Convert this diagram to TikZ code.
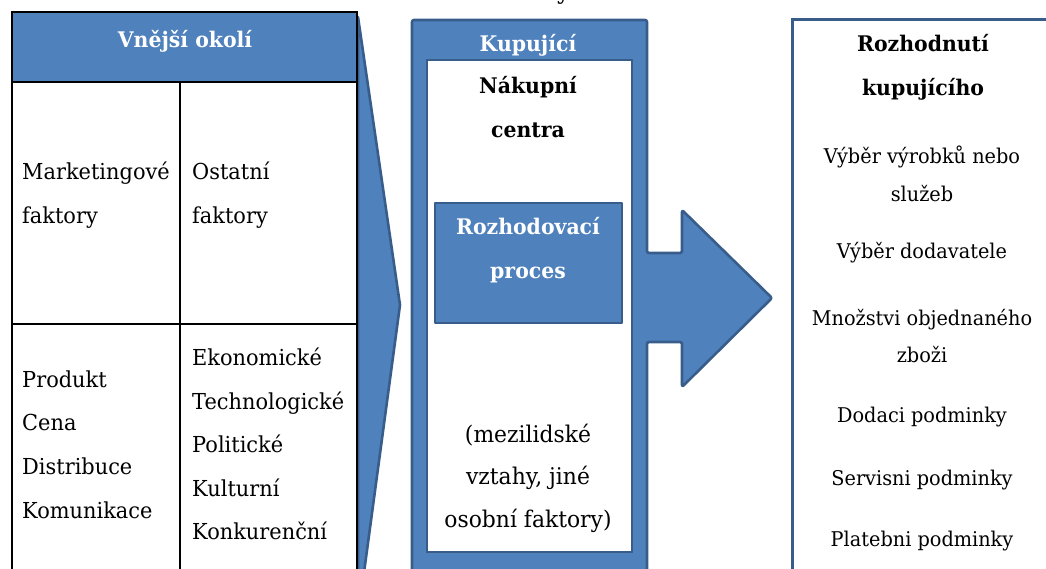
\documentclass[tikz,border=0pt]{standalone}
\usepackage{fontspec}
\setmainfont{DejaVu Serif}[FakeStretch=0.95]
\definecolor{boxblue}{RGB}{79,129,189}
\definecolor{edgeblue}{RGB}{56,93,138}

\begin{document}
\begin{tikzpicture}[x=1pt,y=-1pt,
	lbl/.style={font=\rmfamily\fontsize{22}{43.6}\selectfont, inner sep=0pt},
	head/.style={lbl, font=\rmfamily\fontsize{21.5}{44}\selectfont\bfseries, align=center},
	item/.style={lbl, font=\rmfamily\fontsize{20.3}{37.5}\selectfont, align=center},
	blueshape/.style={fill=boxblue, draw=edgeblue, line width=2.6pt, line join=round}]
\useasboundingbox (0,0) rectangle (1046,569);
\clip (0,0) rectangle (1046,569);

%========================================
% LEFT: outer environment table
%========================================
% chevron behind the table
\filldraw[blueshape] (358,17) -- (400,305) -- (363,580) -- (358,580) -- cycle;

\fill[boxblue] (12,12) rectangle (357,82);
\draw[line width=1.5pt] (12,12) rectangle (357,585);
\draw[line width=1.2pt] (12,82) -- (357,82);
\draw[line width=1.2pt] (12,324) -- (357,324);
\draw[line width=1.2pt] (180,82) -- (180,585);

\node[head, text=white] (okoli) at (185,41) {Vnější okolí};
\node[lbl, anchor=west, align=left] (mark) at (22,195) {Marketingové\\faktory};
\node[lbl, anchor=west, align=left] (ostatni) at (192,195) {Ostatní\\faktory};
\node[lbl, anchor=west, align=left] (mix) at (22,444.5)
	{Produkt\\Cena\\Distribuce\\Komunikace};
\node[lbl, anchor=west, align=left] (vnejsi) at (192,444)
	{Ekonomické\\Technologické\\Politické\\Kulturní\\Konkurenční};

%========================================
% MIDDLE: buyer with buying centre
%========================================
% box and arrow as one outline
\filldraw[blueshape, rounded corners=2pt]
(412,20) -- (647,20) -- (647,253) -- (682,253) -- (682,210)
-- (772,298) -- (682,387) -- (682,342) -- (647,342) -- (647,585)
-- (412,585) -- cycle;
\filldraw[fill=white, draw=edgeblue, line width=2.4pt] (427,60) rectangle (632,552);
\filldraw[blueshape] (435,203) rectangle (622,323);

\node[head, text=white] (kupujici) at (528,45) {Kupující};
\node[head] (centra) at (528,107) {Nákupní\\centra};
\node[head, text=white] (proces) at (528,250) {Rozhodovací\\proces};
\node[lbl, align=center, font=\rmfamily\fontsize{23}{42.5}\selectfont] (osobni) at (528,478)
	{(mezilidské\\vztahy, jiné\\osobní faktory)};

% caption fragment cut by the page
\node[lbl, font=\rmfamily\fontsize{22}{24}\selectfont\bfseries, anchor=base] (capt) at (563,0) {y};

%========================================
% RIGHT: buyer's decisions
%========================================
\draw[draw=edgeblue, line width=3pt, fill=white] (792,585) -- (792,20) -- (1060,20) -- (1060,585) -- cycle;

\node[head] (rozhodnuti) at (923,67) {Rozhodnutí\\kupujícího};
\node[item] (vyrobky) at (922,174) {Výběr výrobků nebo\\služeb};
\node[item] (dodavatel) at (922,253) {Výběr dodavatele};
\node[item] (mnozstvi) at (922,336) {Množstvi objednaného\\zboži};
\node[item] (dodaci) at (922,417) {Dodaci podminky};
\node[item] (servis) at (922,480) {Servisni podminky};
\node[item] (platba) at (922,541) {Platebni podminky};
\end{tikzpicture}
\end{document}
